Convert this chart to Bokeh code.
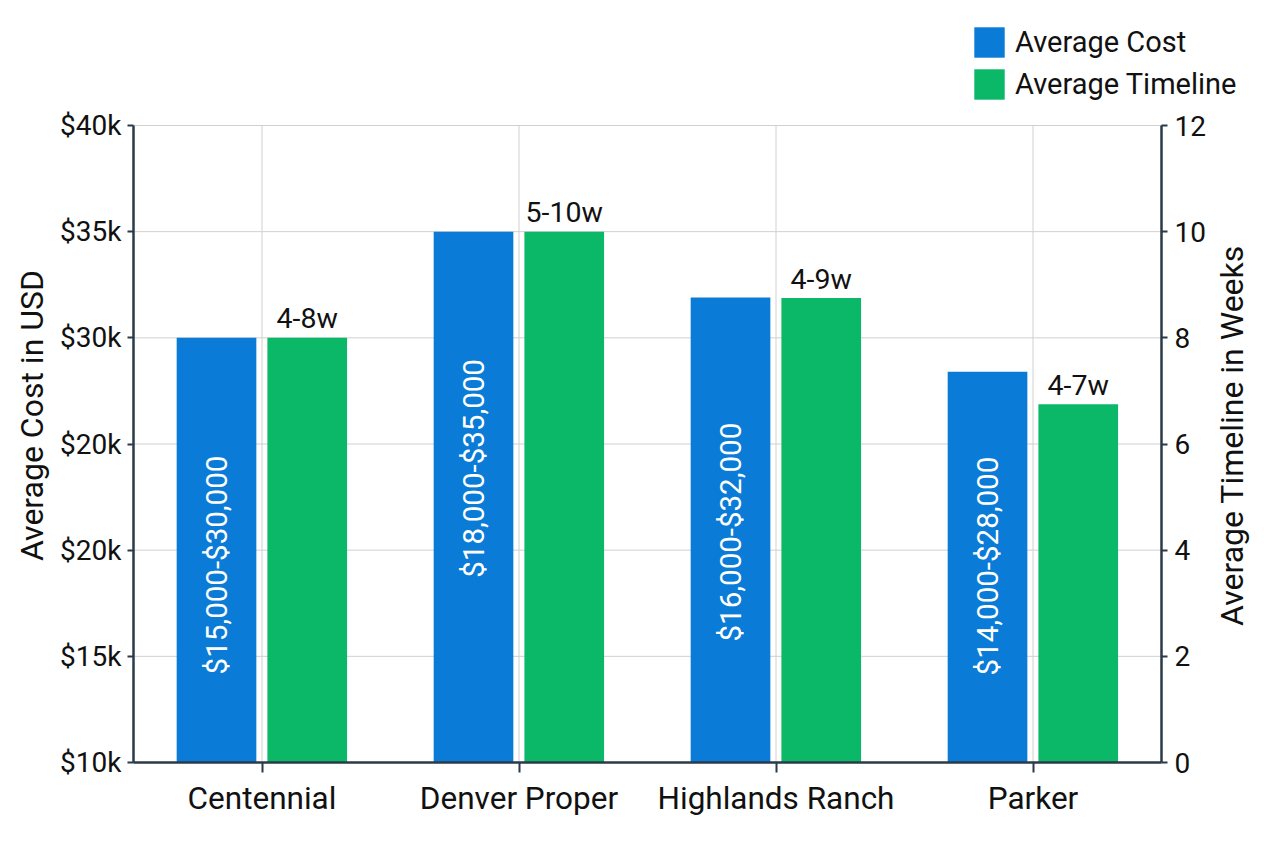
import math
from bokeh.plotting import figure
from bokeh.models import (Range1d, LinearAxis, ColumnDataSource, Legend, LegendItem,
                          FixedTicker, Label)
from bokeh.core.properties import value
from bokeh.embed import file_html
from bokeh.resources import INLINE

# ---- data ----
categories = ["Centennial", "Denver Proper", "Highlands Ranch", "Parker"]
avg_cost = [30000, 35000, 31900, 28400]
avg_weeks = [8, 10, 8.75, 6.75]
cost_labels = ["$15,000-$30,000", "$18,000-$35,000", "$16,000-$32,000", "$14,000-$28,000"]
cost_label_pos = [19300, 23850, 20850, 19250]
week_labels = ["4-8w", "5-10w", "4-9w", "4-7w"]
cost_ticks = [10000, 15000, 20000, 25000, 30000, 35000, 40000]
cost_tick_labels = ["$10k", "$15k", "$20k", "$20k", "$30k", "$35k", "$40k"]
week_ticks = [0, 2, 4, 6, 8, 10, 12]
series_names = ["Average Cost", "Average Timeline"]
cost_range = (10000, 40000)
week_range = (0, 12)

# ---- styling / geometry (pixels) ----
FONT = "Roboto"
AXIS = "#2b3a48"
BLUE = "#0a7bd6"
GREEN = "#0bb868"
GRID = "#d0d0d0"
TXT = "#111111"
W, H = 1256, 840
FL, FR, FT, FB = 133, 1161, 125, 762     # plot area inside the canvas
OFF_C, OFF_W, BAR_W = -0.177, 0.176, 0.31

n = len(categories)
xpp = n / (FR - FL)
cpp = (cost_range[1] - cost_range[0]) / (FB - FT)
wpp = (week_range[1] - week_range[0]) / (FB - FT)

x_rng = Range1d(-FL * xpp, n + (W - FR) * xpp)
y_rng = Range1d(cost_range[0] - (H - FB) * cpp, cost_range[1] + FT * cpp)
w_rng = Range1d(week_range[0] - (H - FB) * wpp, week_range[1] + FT * wpp)

centers = [i + 0.5 for i in range(n)]
src = ColumnDataSource(dict(
    xc=[c + OFF_C for c in centers], xw=[c + OFF_W for c in centers],
    cost=avg_cost, weeks=avg_weeks, cost_label=cost_labels,
    label_pos=cost_label_pos, week_label=week_labels))

p = figure(width=W, height=H, x_range=x_rng, y_range=y_rng,
           output_backend="svg", toolbar_location=None, min_border=0,
           outline_line_color=None)
p.extra_y_ranges = {"weeks": w_rng}
p.xgrid.visible = False
p.ygrid.visible = False
p.background_fill_color = "white"
p.border_fill_color = "white"

# grid lines, limited to the plot area
p.segment(x0=[0] * len(cost_ticks), x1=[n] * len(cost_ticks), y0=cost_ticks, y1=cost_ticks,
          line_color=GRID, line_width=1)
p.segment(x0=centers, x1=centers, y0=[cost_range[0]] * n, y1=[cost_range[1]] * n,
          line_color=GRID, line_width=1)

cost_r = p.vbar(x="xc", top="cost", bottom=cost_range[0], width=BAR_W, source=src,
                fill_color=BLUE, line_color=None)
week_r = p.vbar(x="xw", top="weeks", bottom=week_range[0], width=BAR_W, source=src,
                fill_color=GREEN, line_color=None, y_range_name="weeks")

p.text(x="xc", y="label_pos", text="cost_label", source=src, angle=math.pi / 2,
       text_align="center", text_baseline="middle", text_color="white",
       text_font=value(FONT), text_font_size="29.5px")
p.text(x="xw", y="weeks", text="week_label", source=src, y_range_name="weeks",
       text_align="center", text_baseline="alphabetic", y_offset=-19,
       text_color=TXT, text_font=value(FONT), text_font_size="28.5px")


def style_axis(ax, size="28px"):
    ax.axis_line_color = AXIS
    ax.axis_line_width = 2.5
    ax.major_tick_line_color = AXIS
    ax.major_tick_line_width = 2
    ax.major_tick_in = 0
    ax.major_tick_out = 6
    ax.minor_tick_line_color = None
    ax.major_label_text_font = FONT
    ax.major_label_text_font_size = size
    ax.major_label_text_color = TXT


yax = p.yaxis[0]
yax.fixed_location = 0
yax.bounds = cost_range
yax.ticker = FixedTicker(ticks=cost_ticks)
yax.major_label_overrides = {t: l for t, l in zip(cost_ticks, cost_tick_labels)}
style_axis(yax)
yax.major_label_standoff = 6

xax = p.xaxis[0]
xax.fixed_location = cost_range[0]
xax.bounds = (0, n)
xax.ticker = FixedTicker(ticks=centers)
xax.major_label_overrides = {c: name for c, name in zip(centers, categories)}
style_axis(xax, "31.5px")
xax.major_tick_out = 10
xax.major_label_standoff = 7

rax = LinearAxis(y_range_name="weeks", fixed_location=n, bounds=week_range,
                 ticker=FixedTicker(ticks=week_ticks))
style_axis(rax)
rax.major_label_standoff = 7
p.add_layout(rax, "right")

# axis titles
for txt, sx, sy in [("Average Cost in USD", 31, 415),
                    ("Average Timeline in Weeks", 1231, 435)]:
    p.add_layout(Label(x=sx, y=H - sy, x_units="screen", y_units="screen", text=txt,
                       angle=math.pi / 2, text_align="center", text_baseline="middle",
                       text_font=FONT, text_font_size="32px", text_color=TXT))

legend = Legend(items=[LegendItem(label=series_names[0], renderers=[cost_r]),
                       LegendItem(label=series_names[1], renderers=[week_r])],
                location=(970, H - 23 - 80), orientation="vertical")
legend.label_text_font = FONT
legend.label_text_font_size = "29px"
legend.label_text_color = TXT
legend.glyph_width = 38
legend.glyph_height = 38
legend.label_height = 38
legend.spacing = 4
legend.label_standoff = 7
legend.padding = 0
legend.margin = 0
legend.border_line_color = None
legend.background_fill_alpha = 0
p.add_layout(legend, "center")

open("out.html", "w").write(file_html(p, INLINE))
